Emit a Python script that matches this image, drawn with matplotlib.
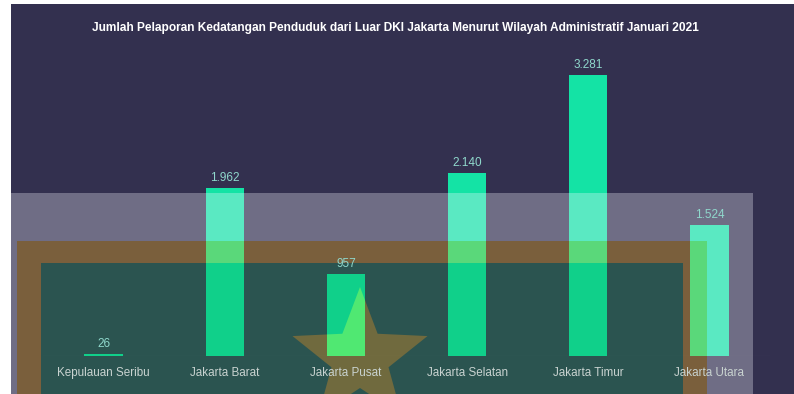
import numpy as np
import matplotlib
matplotlib.use('Agg')
import matplotlib.pyplot as plt
from matplotlib.patches import Rectangle, Polygon


wilayah = ['Kepulauan Seribu', 'Jakarta Barat', 'Jakarta Pusat',
           'Jakarta Selatan', 'Jakarta Timur', 'Jakarta Utara']
jumlah = [26, 1962, 957, 2140, 3281, 1524]
label_jumlah = ['26', '1.962', '957', '2.140', '3.281', '1.524']

judul = 'Jumlah Pelaporan Kedatangan Penduduk dari Luar DKI Jakarta Menurut Wilayah Administratif Januari 2021'

W = 794
H = 394

plt.rcParams['font.family'] = ['Liberation Sans', 'DejaVu Sans']


def fx(x):
    return x / W


def fy(y):
    return 1 - y / H


def rect_px(x0, y0, x1, y1, **kw):
    # pixel coords, origin top-left
    return Rectangle((fx(x0), fy(y1)), fx(x1) - fx(x0), fy(y0) - fy(y1), **kw)


def star_px(cx, cy, r_out, r_in):
    pts = []
    for i in range(10):
        a = np.pi / 2 + i * np.pi / 5
        r = r_out if i % 2 == 0 else r_in
        pts.append((fx(cx + r * np.cos(a)), fy(cy - r * np.sin(a))))
    return pts


fig = plt.figure(figsize=(W / 100, H / 100), dpi=100)
fig.patch.set_facecolor('white')

# region: (shape maker, bg colour, bar colour)
regions = [
    (lambda **kw: rect_px(11, 4, 794, 394, **kw), '#33304f', '#14e3a5'),
    (lambda **kw: rect_px(11, 193, 753, 394, **kw), '#6f6d85', '#5ae9c2'),
    (lambda **kw: rect_px(17, 241, 707, 394, **kw), '#7a5f3c', '#5ad87a'),
    (lambda **kw: rect_px(41, 263, 683, 394, **kw), '#2b5450', '#10d08a'),
    (lambda **kw: Polygon(star_px(360, 358, 71, 30), closed=True, **kw), '#706a3e', '#50e872'),
]

for i, (mk, bg, _) in enumerate(regions):
    fig.add_artist(mk(transform=fig.transFigure, facecolor=bg,
                      edgecolor='none', zorder=-10 + i))

ax = fig.add_axes([fx(43), fy(356), fx(770) - fx(43), fy(60) - fy(356)])
ax.set_facecolor('none')
x = np.arange(len(wilayah))

for mk, _, bar_col in regions:
    clip = mk(transform=fig.transFigure)
    bars = ax.bar(x, jumlah, width=0.315, color=bar_col, linewidth=0)
    for b in bars:
        b.set_clip_path(clip)

for xi, v, t in zip(x, jumlah, label_jumlah):
    ax.annotate(t, (xi, v), xytext=(0, 3), textcoords='offset points',
                ha='center', va='bottom', fontsize=8.5, color='#8fd8cc')

ax.axhline(0, color='white', alpha=0.15, linewidth=0.8)
ax.set_xlim(-0.5, 5.5)
ax.set_ylim(0, 3456)
ax.set_xticks(x)
ax.set_xticklabels(wilayah, fontsize=8.4, color='#c9d3d0')
ax.tick_params(axis='x', length=0, pad=8)
ax.set_yticks([])
for s in ax.spines.values():
    s.set_visible(False)

fig.text(fx(395), fy(28), judul, ha='center', va='center',
         fontsize=8.6, fontweight='bold', color='white')

plt.savefig('out.png', dpi=100, facecolor=fig.get_facecolor())
